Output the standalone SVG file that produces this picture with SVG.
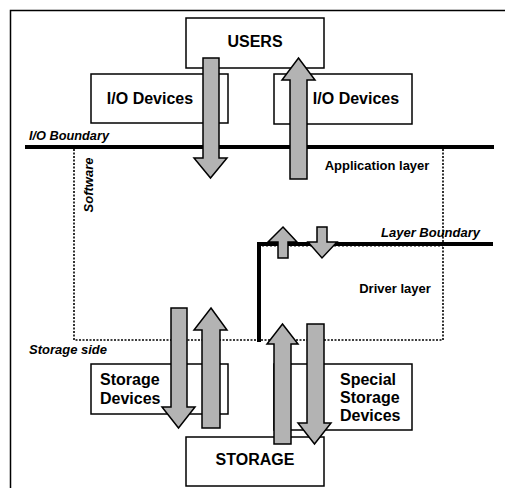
<svg xmlns="http://www.w3.org/2000/svg" width="505" height="488" viewBox="0 0 505 488">
<style>
.box{fill:#fff;stroke:#000;stroke-width:1.5}
.big{font-family:"Liberation Sans",Arial,sans-serif;font-weight:bold;font-size:16px;fill:#000}
.lbl{font-family:"Liberation Sans",Arial,sans-serif;font-weight:bold;font-size:13px;fill:#000}
.it{font-style:italic}
.arr{fill:#b3b3b3;stroke:#000;stroke-width:1.5;stroke-linejoin:miter}
.thick{fill:none;stroke:#000;stroke-width:4}
.dot{fill:none;stroke:#000;stroke-width:1.6;stroke-dasharray:2 1.5}
</style>
<rect x="10.5" y="10.5" width="520" height="500" fill="#fff" stroke="#000" stroke-width="1.5"/>
<g id="boundaries">
<path class="dot" d="M74,149 V340 H443 V149"/>
<line x1="262" y1="246.5" x2="443" y2="246.5" stroke="#888" stroke-width="1" stroke-dasharray="2 2"/>
<line class="thick" x1="25" y1="147" x2="494" y2="147"/>
<path class="thick" d="M259,342 V244 H493" stroke-width="4.5"/>
<text class="lbl it" x="29" y="140" textLength="80" lengthAdjust="spacingAndGlyphs">I/O Boundary</text>
<text class="lbl it" x="381" y="237">Layer Boundary</text>
<text class="lbl it" x="29" y="354">Storage side</text>
<text class="lbl it" transform="translate(93,185) rotate(-90)" text-anchor="middle">Software</text>
<text class="lbl" x="377" y="170" text-anchor="middle">Application layer</text>
<text class="lbl" x="395" y="293" text-anchor="middle">Driver layer</text>
</g>
<g id="users"><rect class="box" x="186" y="18" width="138" height="50"/><text class="big" x="255" y="47" text-anchor="middle">USERS</text></g>
<g id="io-left"><rect class="box" x="91" y="74" width="137" height="49"/><text class="big" x="150" y="104" text-anchor="middle">I/O Devices</text></g>
<g id="io-right"><rect class="box" x="274" y="74" width="138" height="50"/><text class="big" x="356" y="104" text-anchor="middle">I/O Devices</text></g>
<g id="storage-devices"><rect class="box" x="91" y="364" width="137" height="50"/><text class="big" x="100" y="385">Storage</text><text class="big" x="100" y="404">Devices</text></g>
<g id="special-storage"><rect class="box" x="274" y="364" width="138" height="66"/><text class="big" x="340" y="385">Special</text><text class="big" x="340" y="403">Storage</text><text class="big" x="340" y="421">Devices</text></g>
<g id="storage"><rect class="box" x="186" y="437" width="138" height="49"/><text class="big" x="255" y="465" text-anchor="middle">STORAGE</text></g>
<g id="connectors">
<path class="arr" d="M203,58 H219 V158 H227 L210.5,178 L194,158 H203 Z"/>
<path class="arr" d="M298.5,58 L315,80 H307 V179 H290 V80 H282 Z"/>
<path class="arr" d="M283,227 L297,242 H288 V258 H278 V242 H268 Z"/>
<path class="arr" d="M317,227 H327 V242 H337 L322,258 L308,242 H317 Z"/>
<path class="arr" d="M171,308 H187 V407 H195 L178.5,428 L162,407 H171 Z"/>
<path class="arr" d="M211,308 L227,330 H220 V428 H202 V330 H194 Z"/>
<path class="arr" d="M282.5,324 L298,344 H291 V444 H274 V344 H267 Z"/>
<path class="arr" d="M307,324 H324 V423 H331 L314.5,444 L298,423 H307 Z"/>
</g>
</svg>
